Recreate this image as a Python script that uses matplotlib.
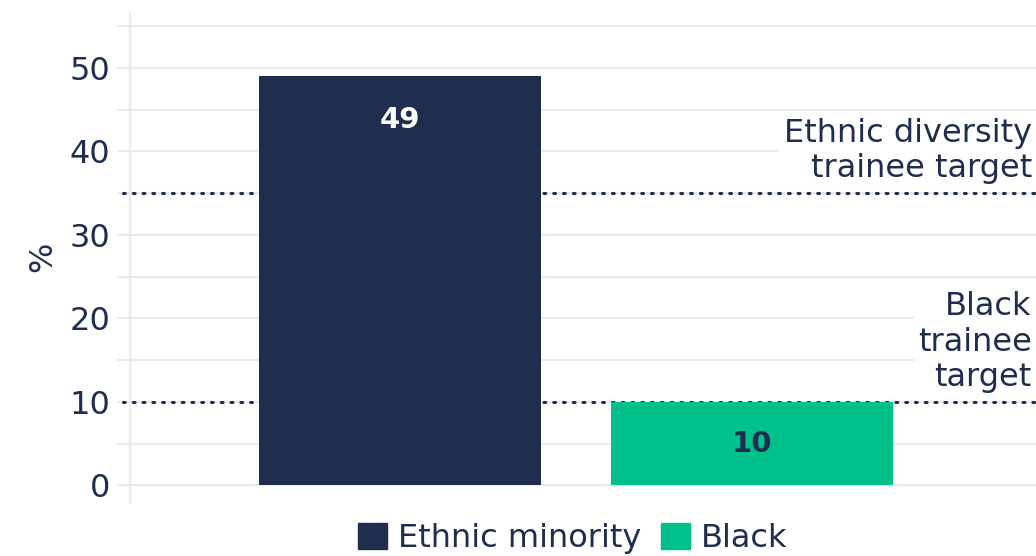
import matplotlib.pyplot as plt
import numpy as np

plt.rcParams['font.family'] = ['DejaVu Sans']

# trainee shares by group, percent
groups = ["Ethnic minority", "Black"]
values = [49, 10]
bar_colors = ["#1f2d4e", "#00c08b"]
label_colors = ["white", "#1f2d4e"]

# target reference lines
targets = [35, 10]
target_labels = ["Ethnic diversity\ntrainee target", "Black\ntrainee\ntarget"]

yticks = [0, 10, 20, 30, 40, 50]
navy = "#1f2d4e"
grid_col = "#ebebeb"
fs = 23

fig = plt.figure(figsize=(10.36, 5.56), dpi=100)
ax = fig.add_axes([130 / 1036, (556 - 502) / 556, (1036 - 130) / 1036, (502 - 12) / 556])

x = np.arange(len(groups))
ax.set_xlim(-0.767, 1.807)
ax.set_ylim(-2.0, 56.7)

# grid every 5, drawn as lines so they stop a little left of the axis
for g in range(0, 60, 5):
    ax.axhline(g, xmin=-0.013, xmax=1, color=grid_col, lw=1.5, zorder=0, clip_on=False)

for t in targets:
    ax.axhline(t, xmin=-0.008, xmax=1, color=navy, lw=2.2, ls=(0, (0.6, 2.6)),
               dash_capstyle='round', zorder=1, clip_on=False)

bars = ax.bar(x, values, width=0.8, color=bar_colors, zorder=3)

# value labels inside the bars
ax.text(x[0], values[0] - 5.2, str(values[0]), ha='center', va='center',
        color=label_colors[0], fontsize=21, fontweight='bold', zorder=4)
ax.text(x[1], values[1] / 2, str(values[1]), ha='center', va='center',
        color=label_colors[1], fontsize=21, fontweight='bold', zorder=4)

# target captions, right aligned with a white backing over the grid
for t, lab in zip(targets, target_labels):
    ax.text(1.795, t + 1.1, lab, ha='right', va='bottom',
            color=navy, fontsize=fs, linespacing=1.17, zorder=2,
            bbox=dict(facecolor='white', edgecolor='none', pad=3))

ax.set_yticks(yticks)
ax.set_yticklabels([str(v) for v in yticks], color=navy, fontsize=fs)
ax.tick_params(axis='y', length=0, pad=14)
ax.set_xticks([])
for s in ['top', 'right', 'bottom']:
    ax.spines[s].set_visible(False)
ax.spines['left'].set_color(grid_col)
ax.spines['left'].set_linewidth(1.5)
ax.set_ylabel("%", color=navy, fontsize=fs, labelpad=8)

handles = [plt.Rectangle((0, 0), 1, 1, color=c) for c in bar_colors]
fig.legend(handles, groups, loc='center', bbox_to_anchor=(0.553, 0.032), ncol=2,
           frameon=False, fontsize=fs, labelcolor=navy, handlelength=0.9,
           handleheight=0.9, handletextpad=0.35, columnspacing=0.6,
           borderpad=0, borderaxespad=0)

fig.savefig("out.png", dpi=100)
